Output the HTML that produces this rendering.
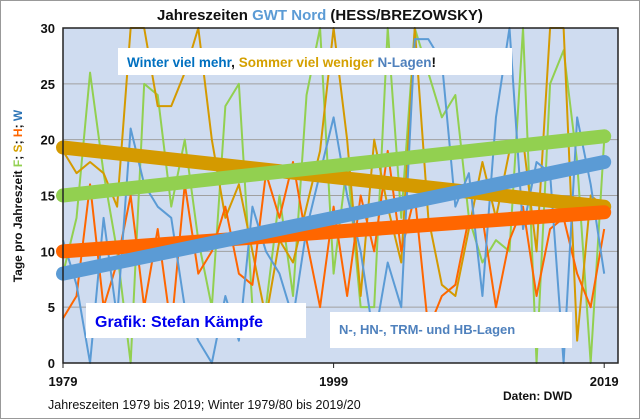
<!DOCTYPE html>
<html><head><meta charset="utf-8">
<style>
body{margin:0;background:#fff;}
svg{display:block;font-family:"Liberation Sans",Arial,sans-serif;}
</style></head>
<body>
<svg id="chart" width="640" height="419" viewBox="0 0 640 419">
<rect x="0.5" y="0.5" width="639" height="418" fill="#fff" stroke="#999" stroke-width="1"/>
<rect x="63" y="28" width="555" height="335" fill="#cfdcf0"/>
<g id="grid"></g>
<g id="series"></g>
<g id="trends"></g>
<rect x="63" y="28" width="555" height="335" fill="none" stroke="#222" stroke-width="1.5"/>
<g id="axes"></g>
<text x="320" y="20" text-anchor="middle" font-size="15" font-weight="bold" fill="#111">Jahreszeiten <tspan fill="#5b9bd5">GWT Nord</tspan> (HESS/BREZOWSKY)</text>
<text transform="translate(22,196) rotate(-90)" text-anchor="middle" font-size="12" font-weight="bold" fill="#111">Tage pro Jahreszeit <tspan fill="#92d050">F</tspan>; <tspan fill="#d4a000">S</tspan>; <tspan fill="#ff6600">H</tspan>; <tspan fill="#2e75b6">W</tspan></text>
<rect x="118" y="48" width="394" height="27" fill="#fff"/>
<text x="127" y="67" font-size="13.5" font-weight="bold"><tspan fill="#0070c0">Winter viel mehr</tspan><tspan fill="#111">, </tspan><tspan fill="#d4a000">Sommer viel weniger </tspan><tspan fill="#4f81bd">N-Lagen</tspan><tspan fill="#111">!</tspan></text>
<rect x="86" y="303" width="220" height="35" fill="#fff"/>
<text x="95" y="327" font-size="16" font-weight="bold" fill="#0000ee">Grafik: Stefan Kämpfe</text>
<rect x="330" y="312" width="242" height="36" fill="#fff"/>
<text x="339" y="334" font-size="13" font-weight="bold" fill="#4f81bd">N-, HN-, TRM- und HB-Lagen</text>
<text x="48" y="409" font-size="12.5" fill="#111">Jahreszeiten 1979 bis 2019; Winter 1979/80 bis 2019/20</text>
<text x="503" y="400" font-size="12" font-weight="bold" fill="#111">Daten: DWD</text>
</svg>
<script>
const years=[];for(let y=1979;y<=2019;y++)years.push(y);
const winter=[11,7,0,13,4,21,16,14,13,5,2,0,6,2,14,10,8,4,12,17,22,15,10,2,9,5,29,29,27,14,17,6,22,30,12,18,17,0,22,16,8];
const summer=[19,17,18,17,14,30,30,23,23,26,30,20,13,16,10,4,11,9,14,19,30,20,6,20,14,9,30,13,7,6,12,18,13,19,20,10,30,30,2,15,14];
const spring=[8,13,26,17,10,0,25,24,14,20,11,5,23,25,5,5,15,6,24,30,8,18,5,5,30,13,30,26,22,24,13,9,11,10,30,0,25,28,18,0,20];
const autumn=[4,6,16,5,9,15,5,12,3,16,8,10,14,8,7,17,13,18,11,5,14,6,15,10,19,10,15,3,6,7,13,13,5,11,14,6,12,13,8,5,12];
const trendStart=[8,19.3,15,10];
const trendEnd=[18,14,20.3,13.5];
const yTicks=[0,5,10,15,20,25,30];
const xTickYears=[1979,1999,2019];
const NS='http://www.w3.org/2000/svg';
const X=y=>63+(y-1979)*13.53;
const Y=v=>363-Math.min(v,30)*335/30;
function el(t,a,p){const e=document.createElementNS(NS,t);for(const k in a)e.setAttribute(k,a[k]);p.appendChild(e);return e;}
const grid=document.getElementById('grid'),axes=document.getElementById('axes'),ser=document.getElementById('series'),tr=document.getElementById('trends');
yTicks.forEach(v=>{
 if(v>0&&v<30){const g=el('line',{x1:63,x2:618,y1:Y(v),y2:Y(v),stroke:'#a0a0a0','stroke-width':1},grid);
 
 }
 const t=el('text',{x:55,y:Y(v)+5,'text-anchor':'end','font-size':13,'font-weight':'bold',fill:'#111'},axes);
 t.textContent=v;
 
 
});
xTickYears.forEach(yr=>{
 const l=el('line',{x1:X(yr),x2:X(yr),y1:363,y2:368,stroke:'#222'},axes);
 
 
 const t=el('text',{x:X(yr),y:386,'text-anchor':'middle','font-size':13,'font-weight':'bold',fill:'#111'},axes);
 t.textContent=yr;
 
 
});
const seriesList=[[spring,'#92d050','spring-line'],[summer,'#d49a00','summer-line'],[autumn,'#ff6600','autumn-line'],[winter,'#5b9bd5','winter-line']];
seriesList.forEach(([d,c,n])=>{
 const p=el('polyline',{points:d.map((v,i)=>X(years[i])+','+Y(v)).join(' '),fill:'none',stroke:c,'stroke-width':2,'stroke-linejoin':'round'},ser);
 
 
});
const trendColors=['#5b9bd5','#d49a00','#92d050','#ff6600'];
const trendNames=['winter-trend','summer-trend','spring-trend','autumn-trend'];
[1,2,3,0].forEach(i=>{
 const l=el('line',{x1:X(1979),y1:Y(trendStart[i]),x2:X(2019),y2:Y(trendEnd[i]),stroke:trendColors[i],'stroke-width':14,'stroke-linecap':'round'},tr);
 
 
});
</script>
</body></html>
